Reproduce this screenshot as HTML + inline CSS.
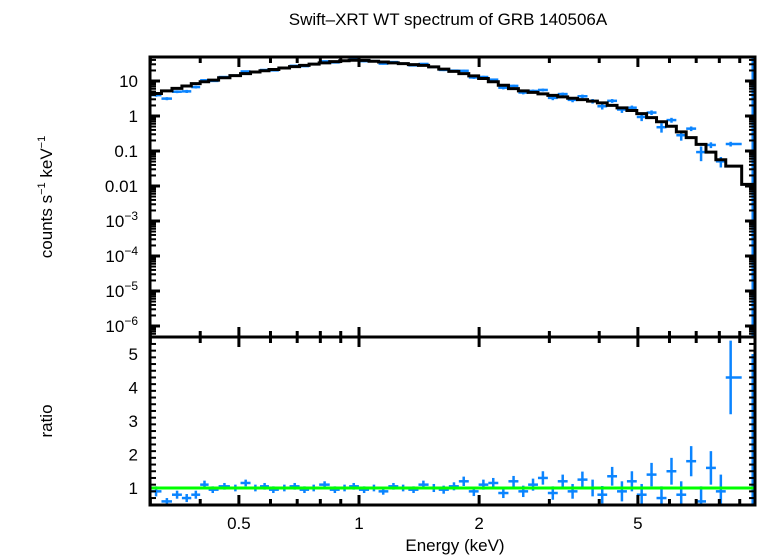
<!DOCTYPE html>
<html><head><meta charset="utf-8"><style>
body{margin:0;background:#fff}
svg{display:block;font-family:"Liberation Sans",sans-serif}
</style></head><body>
<svg id="c" width="758" height="556" xmlns="http://www.w3.org/2000/svg">
<text x="448" y="25" font-size="17" text-anchor="middle">Swift–XRT WT spectrum of GRB 140506A</text>
<text transform="translate(52,197) rotate(-90)" font-size="17" text-anchor="middle">counts s<tspan font-size="11" dy="-7">−1</tspan><tspan dy="7"> keV</tspan><tspan font-size="11" dy="-7">−1</tspan></text>
<text transform="translate(52,421) rotate(-90)" font-size="17" text-anchor="middle">ratio</text>
<text x="455" y="551" font-size="17" text-anchor="middle">Energy (keV)</text>
<g id="g"></g>
</svg>
<script>
const energies=[0.31,0.33,0.35,0.37,0.39,0.41,0.43,0.46,0.49,0.52,0.55,0.58,0.61,0.65,0.69,0.73,0.77,0.82,0.87,0.92,0.97,1.03,1.09,1.15,1.22,1.29,1.37,1.45,1.54,1.63,1.73,1.83,1.94,2.05,2.17,2.3,2.44,2.58,2.73,2.89,3.06,3.24,3.43,3.63,3.85,4.07,4.31,4.56,4.83,5.11,5.41,5.73,6.07,6.42,6.8,7.2,7.62,8.07,8.54,9.7];
const ratios=[0.9,0.6,0.8,0.7,0.8,1.1,0.95,1.05,1.0,1.15,1.0,1.05,0.95,1.0,1.05,0.95,1.0,1.1,0.95,1.0,1.05,0.95,1.0,0.9,1.05,1.0,0.95,1.1,1.0,0.95,1.05,1.2,0.9,1.1,1.15,0.85,1.2,0.9,1.1,1.3,0.85,1.2,0.9,1.25,1.0,0.8,1.35,0.9,1.2,0.8,1.4,0.7,1.5,0.8,1.8,0.6,1.6,0.9,4.3,1.0];
const ratioErrs=[0.15,0.1,0.12,0.12,0.12,0.12,0.1,0.1,0.1,0.1,0.1,0.1,0.1,0.1,0.1,0.1,0.1,0.1,0.1,0.1,0.1,0.1,0.1,0.1,0.1,0.1,0.1,0.12,0.12,0.12,0.12,0.14,0.14,0.15,0.15,0.15,0.16,0.17,0.18,0.2,0.2,0.2,0.22,0.24,0.25,0.26,0.28,0.3,0.3,0.32,0.35,0.35,0.4,0.4,0.45,0.45,0.5,0.5,1.1,4.0];
const modelE=[0.3,0.4,0.53,0.71,0.89,1.0,1.5,2.0,2.5,3.0,4.0,5.0,6.0,7.0,8.0,9.0,9.8];
const modelFlux=[4,9,17,27,37,40,27,13,5.5,4,2.5,1.3,0.55,0.2,0.06,0.025,0.01];
const yTopLabels=["10","1","0.1","0.01","10|−3","10|−4","10|−5","10|−6"];
const yTopExps=[1,0,-1,-2,-3,-4,-5,-6];
const yBotTicks=[1,2,3,4,5];
const xTickVals=[0.5,1,2,5];
const xTickLabels=["0.5","1","2","5"];

const L=150,R=755,T1=57,B1=337,B2=505;
const X=e=>359+399*Math.log10(e);
const Y1=v=>81-35*(Math.log10(v)-1);
const Y2=r=>488-33.5*(r-1);
const g=document.getElementById('g');
const NS="http://www.w3.org/2000/svg";
function mk(t,a,p){const el=document.createElementNS(NS,t);for(const k in a)el.setAttribute(k,a[k]);(p||g).appendChild(el);return el;}
function interp(e){for(let i=0;i<modelE.length-1;i++){if(e<=modelE[i+1]){const t=(Math.log(e)-Math.log(modelE[i]))/(Math.log(modelE[i+1])-Math.log(modelE[i]));return Math.exp(Math.log(modelFlux[i])+t*(Math.log(modelFlux[i+1])-Math.log(modelFlux[i])));}}return modelFlux[modelFlux.length-1];}
const blue="#0a84ff";
const edges=energies.map((e,i)=>i==0?0.3:Math.sqrt(e*energies[i-1]));edges.push(9.85);
const last=energies.length-1;
energies.forEach((e,i)=>{
  const m=interp(e),v=m*ratios[i];
  const f=Math.min(ratioErrs[i]/ratios[i],0.8)*0.6;
  const x=X(e);
  const h=mk('line',{x1:X(edges[i]),x2:X(edges[i+1]),y1:Y1(v),y2:Y1(v),stroke:blue,'stroke-width':2.5});
  
  
  const y1=i==last?T1:Y1(v*(1+f)), y2=i==last?B1:Y1(v*(1-f));
  const vb=mk('line',{x1:x,x2:x,y1:y1,y2:y2,stroke:blue,'stroke-width':2.5});
  
  
  const rv=mk('line',{x1:X(edges[i]),x2:X(edges[i+1]),y1:Y2(ratios[i]),y2:Y2(ratios[i]),stroke:blue,'stroke-width':2.5});
  
  
  const re=mk('line',{x1:x,x2:x,y1:Math.max(Y2(ratios[i]+ratioErrs[i]),B1),y2:Math.min(Y2(ratios[i]-ratioErrs[i]),B2),stroke:blue,'stroke-width':2.5});
  
  
});
let d="";
energies.forEach((e,i)=>{const y=Y1(interp(e));d+=(i?"L":"M")+X(edges[i])+","+y+"L"+X(edges[i+1])+","+y;});
const mp=mk('path',{d:d,fill:"none",stroke:"#000",'stroke-width':3});


const gl=mk('line',{x1:L,x2:R,y1:Y2(1),y2:Y2(1),stroke:"#00ff00",'stroke-width':3});


const f1=mk('rect',{x:L,y:T1,width:R-L,height:B1-T1,fill:"none",stroke:"#000",'stroke-width':3});


const f2=mk('rect',{x:L,y:B1,width:R-L,height:B2-B1,fill:"none",stroke:"#000",'stroke-width':3});


const minorX=[0.3,0.4,0.6,0.7,0.8,0.9,3,4,6,7,8,9];
[[T1,1],[B1,1],[B1,-1],[B2,-1]].forEach(([y,s])=>{
  xTickVals.forEach(v=>mk('line',{x1:X(v),x2:X(v),y1:y,y2:y+s*10,stroke:"#000",'stroke-width':3}));
  minorX.forEach(v=>mk('line',{x1:X(v),x2:X(v),y1:y,y2:y+s*6,stroke:"#000",'stroke-width':3}));
});
xTickVals.forEach((v,i)=>{const t=mk('text',{x:X(v),y:529,'font-size':17,'text-anchor':'middle'});t.textContent=xTickLabels[i];
  
  });
yTopExps.forEach((p,i)=>{
  const v=Math.pow(10,p),y=Y1(v);
  [[L,1],[R,-1]].forEach(([x,s])=>{mk('line',{x1:x,x2:x+s*10,y1:y,y2:y,stroke:"#000",'stroke-width':3});
    for(let k=2;k<10;k++){const yy=Y1(v*k);if(yy>T1&&yy<B1)mk('line',{x1:x,x2:x+s*6,y1:yy,y2:yy,stroke:"#000",'stroke-width':2});}
    for(let k=2;k<10;k++){const yy=Y1(v*k/10);if(p==-6&&yy<B1)mk('line',{x1:x,x2:x+s*6,y1:yy,y2:yy,stroke:"#000",'stroke-width':2});}});
  const parts=yTopLabels[i].split("|");
  const t=mk('text',{x:138,y:y+6,'font-size':17,'text-anchor':'end'});
  
  
  if(parts.length==1)t.textContent=parts[0];
  else{t.textContent=parts[0];const s=mk('tspan',{'font-size':12,dy:-7},t);s.textContent=parts[1];}
});
for(let r=0.5;r<=5.5;r+=0.2){const y=Y2(r);if(y<B1+2||y>B2-2)continue;
  const major=yBotTicks.some(v=>Math.abs(v-r)<0.01);
  [[L,1],[R,-1]].forEach(([x,s])=>mk('line',{x1:x,x2:x+s*(major?10:6),y1:y,y2:y,stroke:"#000",'stroke-width':major?3:2}));}
yBotTicks.forEach(v=>{const t=mk('text',{x:138,y:Y2(v)+6,'font-size':17,'text-anchor':'end'});t.textContent=v;
  
  });
</script>
</body></html>
